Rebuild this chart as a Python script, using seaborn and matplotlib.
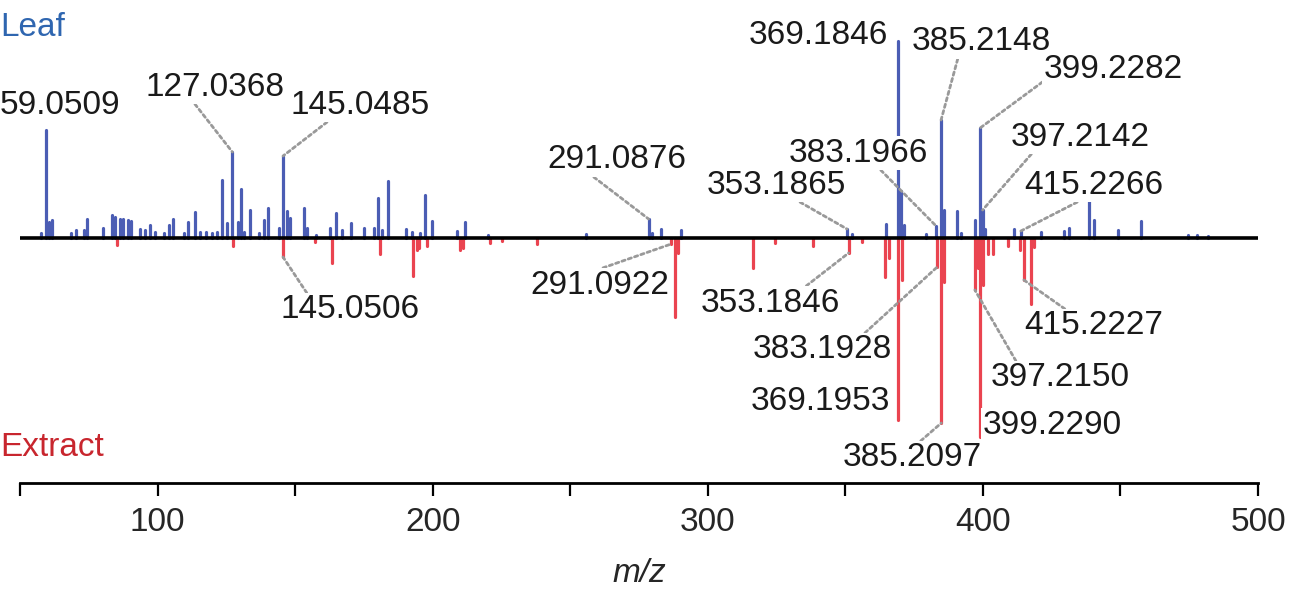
import numpy as np
import pandas as pd
import seaborn as sns
import matplotlib
matplotlib.use("Agg")
import matplotlib.pyplot as plt
from matplotlib.ticker import MultipleLocator

# leaf spectrum (upper, blue): m/z and relative intensity
leaf_mz = [57.5, 59.3, 60.5, 61.5, 68.4, 70.2, 73.2, 74.3, 80.1, 83.5, 84.7, 86.5,
           87.5, 89.3, 90.5, 93.8, 95.6, 97.2, 99.0, 102.3, 104.1, 105.6, 109.6,
           111.2, 113.5, 115.4, 117.5, 119.9, 121.7, 123.3, 125.1, 127.2, 129.3,
           130.2, 131.4, 133.6, 136.8, 138.7, 140.2, 144.1, 145.6, 147.2, 148.1,
           153.2, 154.2, 157.5, 162.5, 165.0, 166.9, 170.2, 175.0, 178.7, 180.2,
           181.7, 183.7, 190.4, 192.6, 195.4, 197.2, 199.9, 209.0, 211.6, 220.0,
           255.6, 278.5, 279.9, 282.9, 290.4, 350.6, 352.4, 364.7, 369.3, 370.4,
           371.4, 379.3, 383.0, 384.8, 385.7, 390.5, 392.0, 397.2, 399.0, 399.9,
           400.8, 411.2, 413.8, 421.1, 429.5, 431.4, 438.7, 440.3, 449.0, 457.5,
           474.4, 478.0, 482.0]
leaf_int = [2.5, 54, 8, 9, 2.5, 4, 4, 9.5, 5, 11.5, 10.5, 9.5,
            9.5, 9, 8.5, 4.5, 4, 6.5, 3, 2.5, 6.5, 9.5, 2.5,
            8, 13, 3, 3, 2.5, 3, 29, 7.5, 43, 8,
            24.5, 3, 14, 2.5, 9, 15, 5, 41, 13.5, 10,
            15, 5, 1.5, 5, 12.5, 4, 7.5, 5, 5, 20,
            4, 28.5, 4.5, 3, 2.5, 21.5, 8.5, 3.5, 8, 1.5,
            2, 9.5, 2.5, 4.5, 4, 4.5, 2, 7, 98.5, 23.5,
            6.5, 2, 6, 59, 14, 13.5, 2.5, 9, 55, 14,
            4.5, 4.5, 3.5, 3, 3.5, 5, 22.5, 9, 4, 8.5,
            1.5, 1.5, 1]

# extract spectrum (lower, red), drawn mirrored
extract_mz = [85.3, 127.4, 145.6, 157.2, 163.5, 180.8, 192.8, 194.4, 195.0, 198.1,
              209.9, 211.2, 220.8, 225.3, 238.0, 286.7, 288.1, 289.0, 316.6, 324.5,
              338.1, 351.2, 355.9, 364.6, 365.8, 369.3, 370.5, 383.4, 384.9, 386.0,
              397.1, 398.1, 399.0, 399.9, 401.7, 403.5, 409.0, 413.4, 414.9, 417.4,
              418.6]
extract_int = [3.5, 4, 9.5, 2, 12.5, 8, 19, 6, 5, 4,
               6, 5, 2.5, 1.5, 3, 3, 39.5, 7.5, 15, 2.5,
               4, 7.5, 2, 19.5, 10, 91, 21, 14.5, 92.5, 22,
               26, 15, 99.5, 23.5, 8, 8, 4, 6, 21, 33,
               4.5]

x_ticks = [100, 200, 300, 400, 500]

# labels: text and the peak m/z the leader points to
leaf_labels = ["59.0509", "127.0368", "145.0485", "291.0876", "353.1865", "383.1966",
               "369.1846", "385.2148", "399.2282", "397.2142", "415.2266"]
leaf_label_peak = [59.3, 127.2, 145.6, 278.5, 350.6, 383.0,
                   369.3, 384.8, 399.0, 399.9, 413.8]
extract_labels = ["145.0506", "291.0922", "353.1846", "383.1928", "369.1953",
                  "385.2097", "399.2290", "397.2150", "415.2227"]
extract_label_peak = [145.6, 286.7, 351.2, 383.4, 369.3,
                      384.9, 399.0, 397.1, 414.9]

# layout of labels: text centre (m/z, y) and where the leader leaves the box
leaf_label_pos = [(64.4, 66.5), (120.7, 75.5), (173.5, 66.5), (266.9, 39), (324.9, 26.5),
                  (354.7, 42.5), (340.2, 101.5), (399.6, 98), (447.5, 84), (435.3, 50.5),
                  (440.5, 26.5)]
leaf_relpos = [None, (0.35, 0), (0.28, 0), (0.32, 0), (0.65, 0), (0.65, 0),
               None, (0.33, 0), (0.0, 0.15), (0.16, 0), (0.4, 0)]
extract_label_pos = [(169.8, -36), (260.7, -23.5), (322.9, -32.5), (341.8, -56), (341, -82),
                     (374.2, -110), (425.1, -93.5), (428, -70), (440.2, -44)]
extract_relpos = [(0.2, 1), (0.49, 1), (0.74, 1), (0.79, 1), None,
                  (0.55, 1), None, (0.19, 1), (0.31, 1)]

BLUE = "#4b5db4"
RED = "#ea4450"

rows = []
for i, (m, v) in enumerate(zip(leaf_mz, leaf_int)):
    rows += [("leaf", "L%d" % i, m, 0.0), ("leaf", "L%d" % i, m, v)]
for i, (m, v) in enumerate(zip(extract_mz, extract_int)):
    rows += [("extract", "E%d" % i, m, 0.0), ("extract", "E%d" % i, m, -v)]
df = pd.DataFrame(rows, columns=["spectrum", "peak", "mz", "intensity"])

sns.set_theme(style="white")
plt.rcParams['font.family'] = ['Liberation Sans', 'DejaVu Sans']

fig = plt.figure(figsize=(12.9, 5.98), dpi=100)
ax = fig.add_axes([20 / 1290, 115 / 598, 1238 / 1290, 483 / 598])

sns.lineplot(data=df, x="mz", y="intensity", hue="spectrum", units="peak",
             estimator=None, sort=False, palette={"leaf": BLUE, "extract": RED},
             lw=2.3, legend=False, ax=ax)
ax.axhline(0, color="black", lw=2.6, zorder=2.5)

ax.set_xlim(50, 500)
ax.set_ylim(-122.5, 119)
ax.set_yticks([])
ax.set_ylabel("")
ax.xaxis.set_major_locator(MultipleLocator(100))
ax.xaxis.set_minor_locator(MultipleLocator(50))
ax.set_xticks(x_ticks)
ax.set_xticklabels([str(t) for t in x_ticks])
ax.tick_params(axis="x", which="both", direction="out", length=9, width=1.6,
               color="black", bottom=True)
ax.tick_params(axis="x", which="major", labelsize=24, pad=8)
ax.set_xlabel("m/z", fontsize=24, style="italic", labelpad=15)
sns.despine(ax=ax, left=True, top=True, right=True)
ax.spines["bottom"].set_linewidth(2)
ax.spines["bottom"].set_color("black")


def add_labels(texts, peaks, mzs, vals, sign, pos, relpos):
    lookup = dict(zip(mzs, vals))
    for t, p, xy, rp in zip(texts, peaks, pos, relpos):
        kw = dict(xy=(p, sign * lookup[p]), xytext=xy, textcoords="data",
                  ha="center", va="center", fontsize=24, color="#1a1a1a",
                  bbox=dict(boxstyle="square,pad=0.05", fc="white", ec="none"),
                  zorder=4)
        if rp is not None:
            kw["arrowprops"] = dict(arrowstyle="-", color="#999999", lw=2.0,
                                    linestyle=(0, (1.2, 1.2)), relpos=rp,
                                    shrinkA=0, shrinkB=0)
        ax.annotate(t, **kw)


add_labels(leaf_labels, leaf_label_peak, leaf_mz, leaf_int, 1, leaf_label_pos, leaf_relpos)
add_labels(extract_labels, extract_label_peak, extract_mz, extract_int, -1,
           extract_label_pos, extract_relpos)

fig.text(0.0, 1 - 27 / 598, "Leaf", color="#2f66b0", fontsize=24, ha="left", va="center")
fig.text(0.0, 1 - 448 / 598, "Extract", color="#c8262e", fontsize=24, ha="left", va="center")

fig.savefig("out.png", dpi=100)
